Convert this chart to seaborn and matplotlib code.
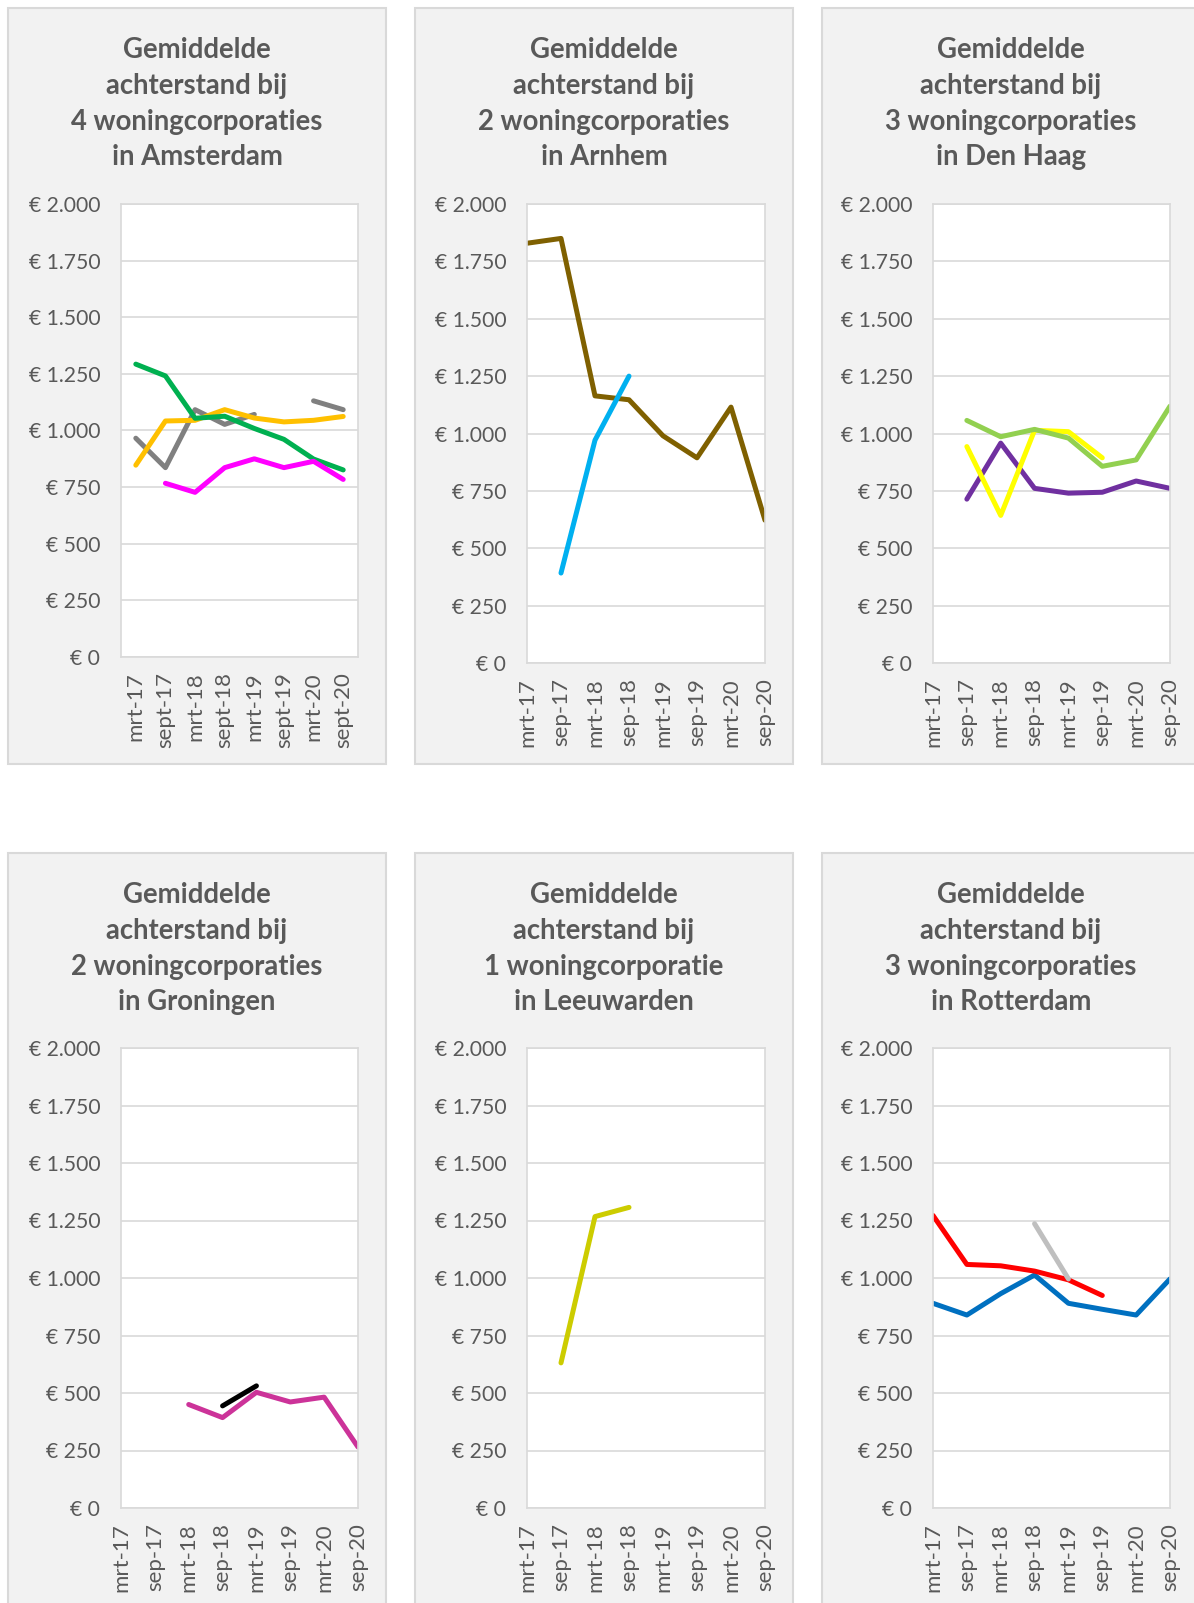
import matplotlib
matplotlib.use('Agg')
import matplotlib.pyplot as plt
import matplotlib.ticker as mticker
from matplotlib.patches import Rectangle
import seaborn as sns
import pandas as pd

W, H = 1194, 1603
N = None

# category labels
cats_ams = ['mrt-17', 'sept-17', 'mrt-18', 'sept-18', 'mrt-19', 'sept-19', 'mrt-20', 'sept-20']
cats = ['mrt-17', 'sep-17', 'mrt-18', 'sep-18', 'mrt-19', 'sep-19', 'mrt-20', 'sep-20']

# Amsterdam
ams_grijs = [966, 836, 1092, 1027, 1071, N, 1131, 1092]
ams_oranje = [847, 1042, 1045, 1092, 1055, 1038, 1045, 1062]
ams_groen = [1293, 1241, 1054, 1063, 1009, 961, 874, 826]
ams_roze = [N, 767, 727, 836, 875, 836, 864, 784]

# Arnhem
arn_bruin = [1829, 1850, 1164, 1147, 990, 894, 1115, 622]
arn_blauw = [N, 392, 971, 1250, N, N, N, N]

# Den Haag
dh_groen = [N, 1057, 986, 1018, 980, 857, 885, 1119]
dh_geel = [N, 943, 643, 1014, 1008, 894, N, N]
dh_paars = [N, 714, 958, 761, 740, 744, 793, 761]

# Groningen
gr_roze = [N, N, 450, 393, 503, 461, 482, 265]
gr_zwart = [N, N, N, 444, 531, N, N, N]

# Leeuwarden
lw_geel = [N, 631, 1267, 1307, N, N, N, N]

# Rotterdam
rt_rood = [1272, 1059, 1053, 1030, 992, 924, N, N]
rt_blauw = [890, 839, 932, 1013, 890, 864, 839, 996]
rt_grijs = [N, N, N, 1236, 996, N, N, N]

titles = [
    ['Gemiddelde', 'achterstand bij', '4 woningcorporaties', 'in Amsterdam'],
    ['Gemiddelde', 'achterstand bij', '2 woningcorporaties', 'in Arnhem'],
    ['Gemiddelde', 'achterstand bij', '3 woningcorporaties', 'in Den Haag'],
    ['Gemiddelde', 'achterstand bij', '2 woningcorporaties', 'in Groningen'],
    ['Gemiddelde', 'achterstand bij', '1 woningcorporatie', 'in Leeuwarden'],
    ['Gemiddelde', 'achterstand bij', '3 woningcorporaties', 'in Rotterdam'],
]

panels = [
    dict(cats=cats_ams, between=True,
         series={'grijs': (ams_grijs, '#808080'), 'oranje': (ams_oranje, '#FFC000'),
                 'groen': (ams_groen, '#00B050'), 'roze': (ams_roze, '#FF00FF')}),
    dict(cats=cats, between=False,
         series={'bruin': (arn_bruin, '#7F6000'), 'blauw': (arn_blauw, '#00B0F0')}),
    dict(cats=cats, between=False,
         series={'paars': (dh_paars, '#7030A0'), 'geel': (dh_geel, '#FFFF00'),
                 'groen': (dh_groen, '#92D050')}),
    dict(cats=cats, between=False,
         series={'roze': (gr_roze, '#CC3399'), 'zwart': (gr_zwart, '#000000')}),
    dict(cats=cats, between=False,
         series={'geel': (lw_geel, '#CCCC00')}),
    dict(cats=cats, between=False,
         series={'blauw': (rt_blauw, '#0070C0'), 'rood': (rt_rood, '#FF0000'),
                 'grijs': (rt_grijs, '#BFBFBF')}),
]


def to_long(series):
    rows = []
    for name, (vals, _) in series.items():
        seg, prev = 0, False
        for i, v in enumerate(vals):
            if v is None:
                if prev:
                    seg += 1
                prev = False
                continue
            rows.append(dict(serie=name, seg=f'{name}{seg}', x=i, y=v))
            prev = True
    return pd.DataFrame(rows)


def euro(v, _):
    return '€ ' + f'{int(v):,}'.replace(',', '.')


sns.set_theme(style='white')
plt.rcParams['font.family'] = ['Lato', 'DejaVu Sans']
fig = plt.figure(figsize=(W / 100, H / 100), dpi=100)

grey_txt = '#595959'
box_x = [8, 415, 822]
box_y = [8, 853]
ax_x = [(121, 358), (527, 765), (933, 1170)]
ax_y = [(204, 663), (1048, 1508)]

for k, p in enumerate(panels):
    r, c = divmod(k, 3)
    bx, by = box_x[c], box_y[r]
    fig.patches.append(Rectangle((bx / W, 1 - (by + 756) / H), 378 / W, 756 / H,
                                 transform=fig.transFigure, fc='#F2F2F2',
                                 ec='#D9D9D9', lw=1.5, zorder=-5))
    cx = bx + 189
    for j, line in enumerate(titles[k]):
        fig.text(cx / W, 1 - (by + 50 + 35.8 * j) / H, line, ha='center',
                 va='baseline', fontsize=19.8, fontweight='bold', color=grey_txt)

    x0, x1 = ax_x[c]
    y0, y1 = ax_y[r]
    if k == 0:
        y1 = 657
    ax = fig.add_axes([x0 / W, 1 - y1 / H, (x1 - x0) / W, (y1 - y0) / H])
    ax.set_facecolor('white')

    df = to_long(p['series'])
    pal = {n: col for n, (_, col) in p['series'].items()}
    sns.lineplot(data=df, x='x', y='y', hue='serie', units='seg', estimator=None,
                 palette=pal, linewidth=3.6, legend=False, sort=False, ax=ax)

    ax.set_ylim(0, 2000)
    ax.yaxis.set_major_locator(mticker.MultipleLocator(250))
    ax.yaxis.set_major_formatter(mticker.FuncFormatter(euro))
    ax.set_xticks(range(8))
    ax.set_xticklabels(p['cats'], rotation=90)
    if p['between']:
        ax.set_xlim(-0.5, 7.5)
    else:
        ax.set_xlim(0, 7)
    ax.grid(axis='y', color='#D9D9D9', lw=1.2)
    ax.set_axisbelow(True)
    for s in ax.spines.values():
        s.set_color('#D9D9D9')
        s.set_linewidth(1.2)
    ax.tick_params(axis='y', length=0, pad=15, labelsize=15.2, labelcolor=grey_txt)
    ax.tick_params(axis='x', length=0, pad=11, labelsize=16, labelcolor=grey_txt)
    ax.set_xlabel('')
    ax.set_ylabel('')

fig.savefig('out.png', dpi=100)
